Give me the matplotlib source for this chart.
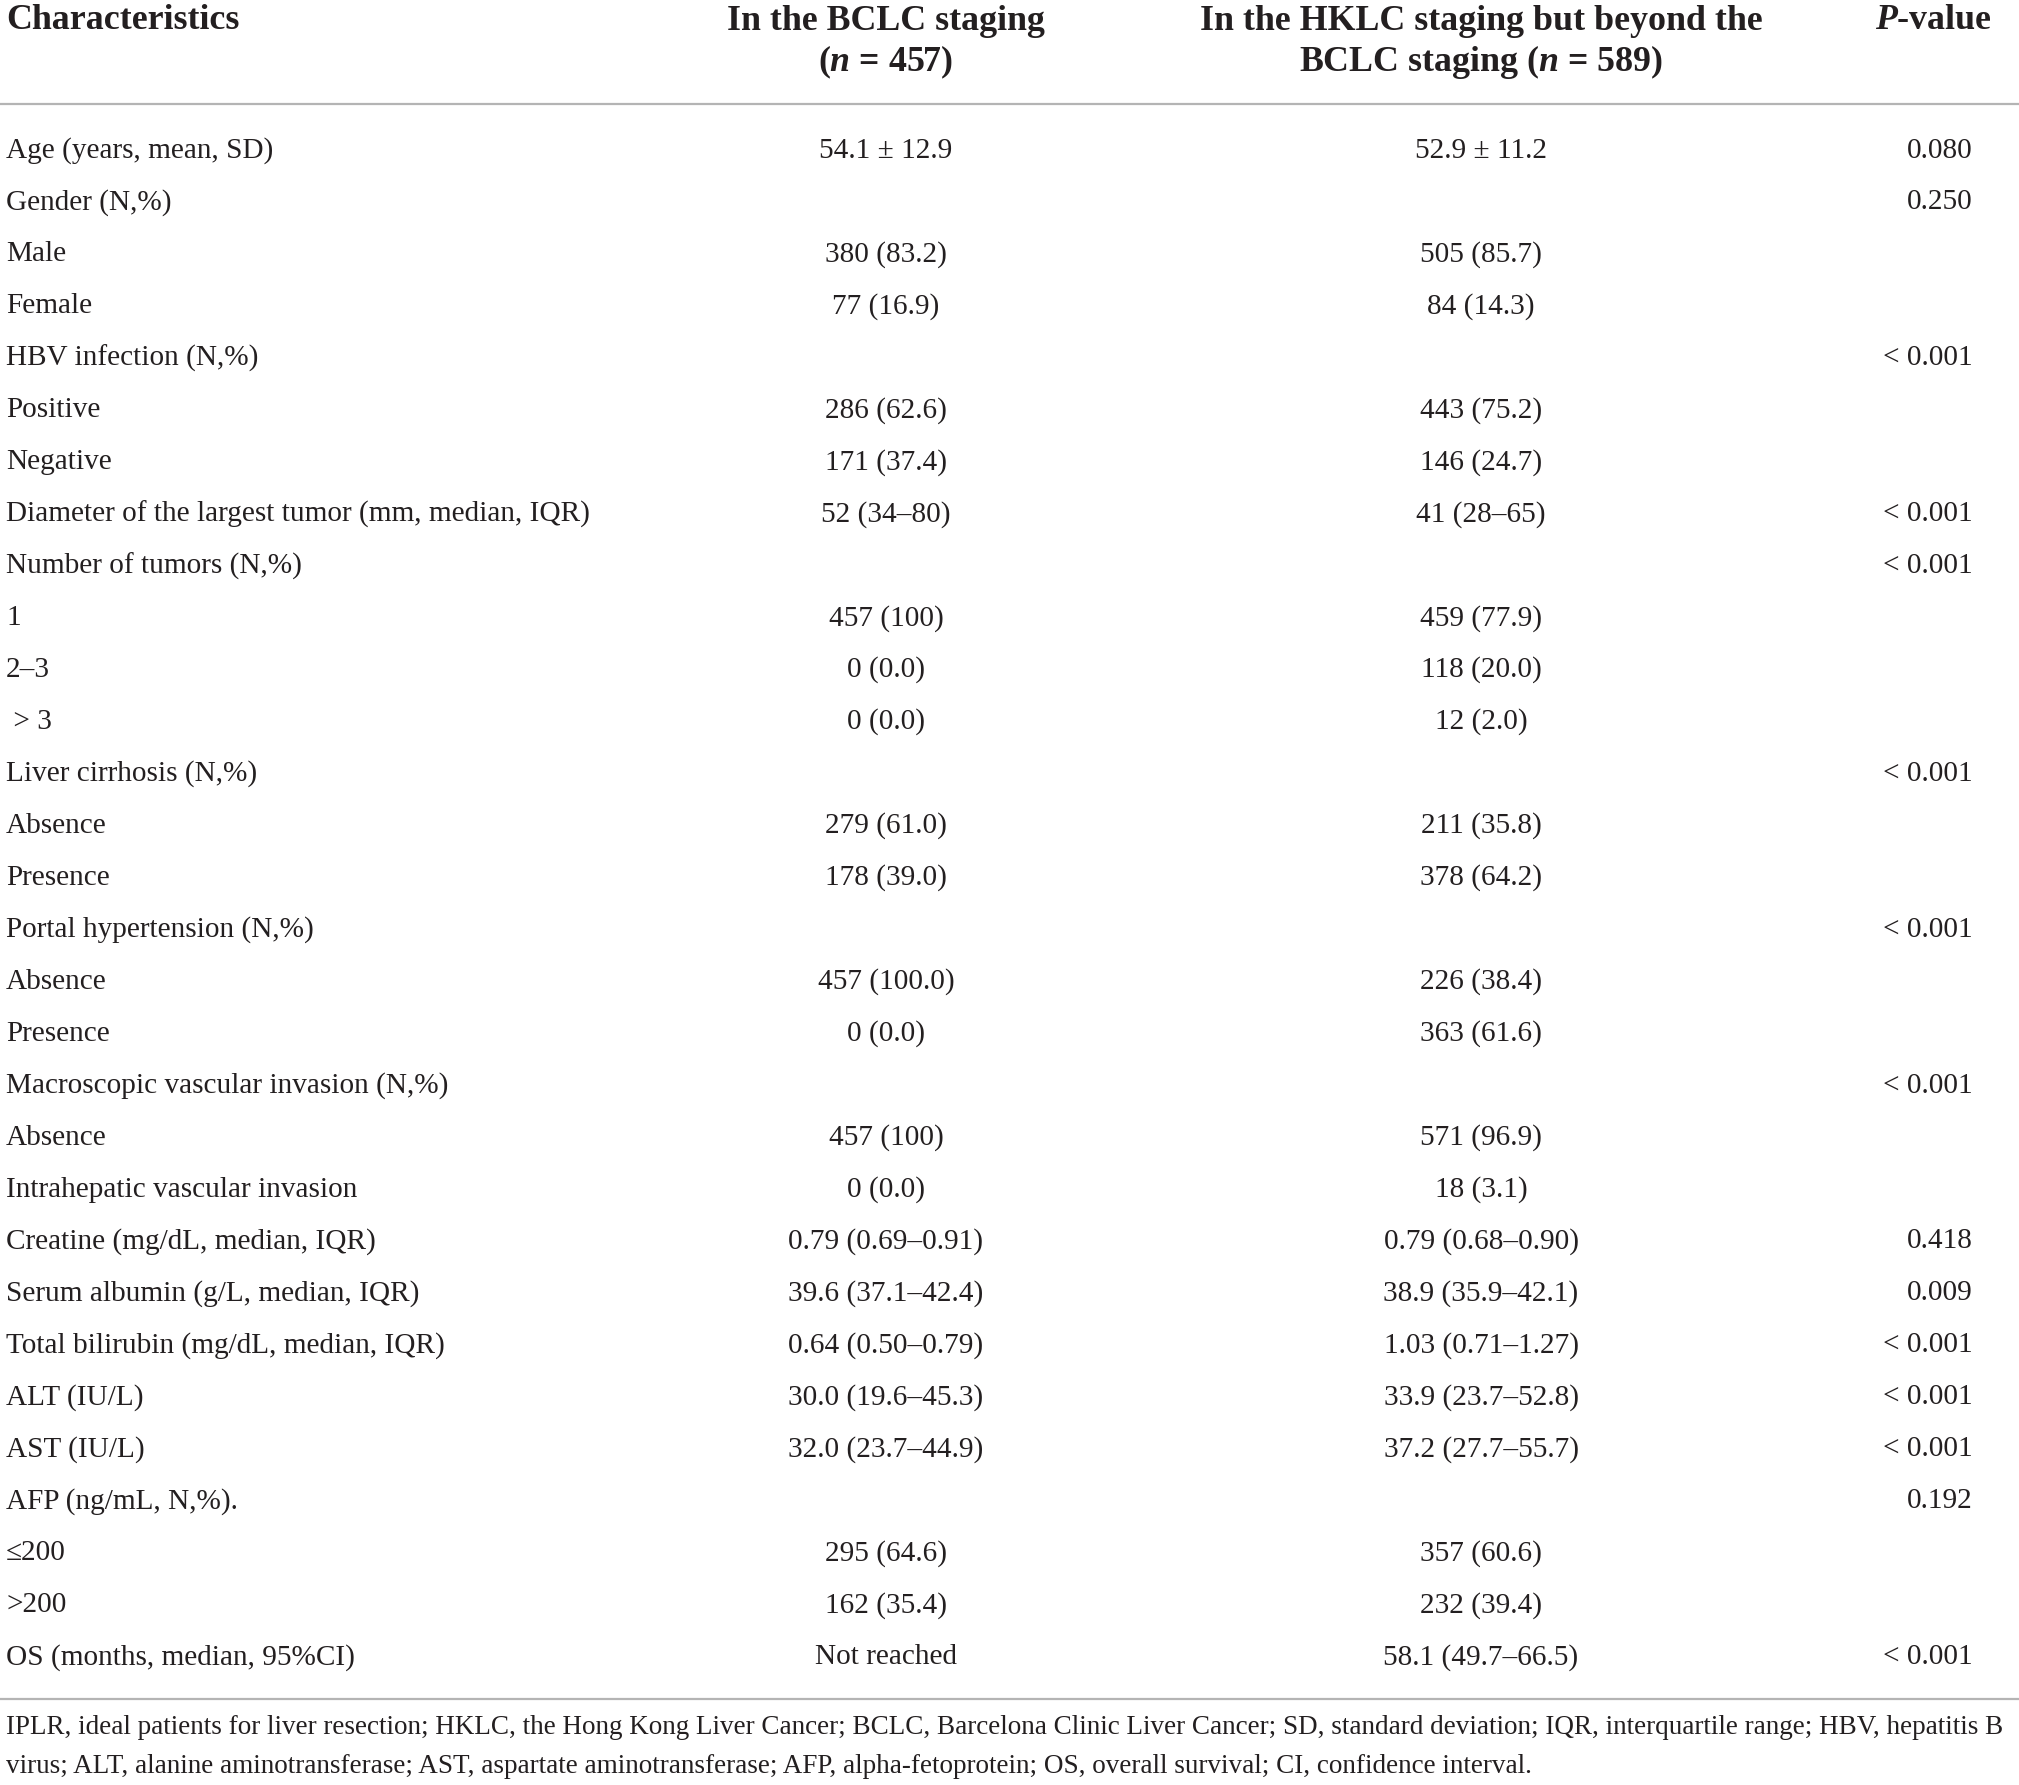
import matplotlib
matplotlib.use("Agg")
import matplotlib.pyplot as plt

plt.rcParams['font.family'] = ['Liberation Serif', 'DejaVu Serif']
plt.rcParams['mathtext.fontset'] = 'custom'
plt.rcParams['mathtext.it'] = 'Liberation Serif:italic:bold'
plt.rcParams['mathtext.rm'] = 'Liberation Serif:bold'
plt.rcParams['mathtext.bf'] = 'Liberation Serif:bold'

headers = ["Characteristics",
           "In the BCLC staging\n($n$ = 457)",
           "In the HKLC staging but beyond the\nBCLC staging ($n$ = 589)",
           "$P$-value"]

characteristics = [
    "Age (years, mean, SD)", "Gender (N,%)", "Male", "Female",
    "HBV infection (N,%)", "Positive", "Negative",
    "Diameter of the largest tumor (mm, median, IQR)",
    "Number of tumors (N,%)", "1", "2\u20133", " > 3",
    "Liver cirrhosis (N,%)", "Absence", "Presence",
    "Portal hypertension (N,%)", "Absence", "Presence",
    "Macroscopic vascular invasion (N,%)", "Absence", "Intrahepatic vascular invasion",
    "Creatine (mg/dL, median, IQR)", "Serum albumin (g/L, median, IQR)",
    "Total bilirubin (mg/dL, median, IQR)", "ALT (IU/L)", "AST (IU/L)",
    "AFP (ng/mL, N,%).", "\u2264200", ">200", "OS (months, median, 95%CI)",
]
bclc = [
    "54.1 \u00b1 12.9", "", "380 (83.2)", "77 (16.9)",
    "", "286 (62.6)", "171 (37.4)",
    "52 (34\u201380)",
    "", "457 (100)", "0 (0.0)", "0 (0.0)",
    "", "279 (61.0)", "178 (39.0)",
    "", "457 (100.0)", "0 (0.0)",
    "", "457 (100)", "0 (0.0)",
    "0.79 (0.69\u20130.91)", "39.6 (37.1\u201342.4)",
    "0.64 (0.50\u20130.79)", "30.0 (19.6\u201345.3)", "32.0 (23.7\u201344.9)",
    "", "295 (64.6)", "162 (35.4)", "Not reached",
]
hklc = [
    "52.9 \u00b1 11.2", "", "505 (85.7)", "84 (14.3)",
    "", "443 (75.2)", "146 (24.7)",
    "41 (28\u201365)",
    "", "459 (77.9)", "118 (20.0)", "12 (2.0)",
    "", "211 (35.8)", "378 (64.2)",
    "", "226 (38.4)", "363 (61.6)",
    "", "571 (96.9)", "18 (3.1)",
    "0.79 (0.68\u20130.90)", "38.9 (35.9\u201342.1)",
    "1.03 (0.71\u20131.27)", "33.9 (23.7\u201352.8)", "37.2 (27.7\u201355.7)",
    "", "357 (60.6)", "232 (39.4)", "58.1 (49.7\u201366.5)",
]
pvalues = [
    "0.080", "0.250", "", "",
    "< 0.001", "", "",
    "< 0.001",
    "< 0.001", "", "", "",
    "< 0.001", "", "",
    "< 0.001", "", "",
    "< 0.001", "", "",
    "0.418", "0.009",
    "< 0.001", "< 0.001", "< 0.001",
    "0.192", "", "", "< 0.001",
]
footnote = ("IPLR, ideal patients for liver resection; HKLC, the Hong Kong Liver Cancer; BCLC, Barcelona Clinic Liver Cancer; SD, standard deviation; IQR, interquartile range; HBV, hepatitis B\n"
            "virus; ALT, alanine aminotransferase; AST, aspartate aminotransferase; AFP, alpha-fetoprotein; OS, overall survival; CI, confidence interval.")

W, H = 2019, 1785
fig = plt.figure(figsize=(W / 100, H / 100), dpi=100)
ax = fig.add_axes([0, 0, 1, 1])
ax.set_xlim(0, W)
ax.set_ylim(H, 0)
ax.axis('off')

TXT = '#231f20'
RULE = '#b4b4b4'
FS = 21.1
HFS = 25.8
NFS = 19.5

x_left = 6
x_c2 = 886
x_c3 = 1481
x_p = 1973

# headers
ax.text(x_left, 20, headers[0], ha='left', va='center', fontsize=HFS, fontweight='bold', color=TXT)
for xh, h in [(x_c2, headers[1]), (x_c3, headers[2])]:
    l1, l2 = h.split("\n")
    ax.text(xh, 21, l1, ha='center', va='center', fontsize=HFS, fontweight='bold', color=TXT)
    ax.text(xh, 62, l2, ha='center', va='center', fontsize=HFS, fontweight='bold', color=TXT)
ax.text(1992, 20, headers[3], ha='right', va='center', fontsize=HFS, fontweight='bold', color=TXT)

ax.plot([0, W], [104, 104], color=RULE, lw=1.6, solid_capstyle='butt')

y0, dy = 150.5, 51.95
for i, (c, b, h, p) in enumerate(zip(characteristics, bclc, hklc, pvalues)):
    y = y0 + i * dy
    ax.text(x_left, y, c, ha='left', va='center', fontsize=FS, color=TXT)
    if b:
        ax.text(x_c2, y, b, ha='center', va='center', fontsize=FS, color=TXT)
    if h:
        ax.text(x_c3, y, h, ha='center', va='center', fontsize=FS, color=TXT)
    if p:
        ax.text(x_p, y, p, ha='right', va='center', fontsize=FS, color=TXT)

ax.plot([0, W], [1699, 1699], color=RULE, lw=1.6, solid_capstyle='butt')

fl1, fl2 = footnote.split("\n")
ax.text(x_left, 1727, fl1, ha='left', va='center', fontsize=NFS, color=TXT)
ax.text(x_left, 1766, fl2, ha='left', va='center', fontsize=NFS, color=TXT)

fig.savefig("out.png", dpi=100, facecolor='white')
